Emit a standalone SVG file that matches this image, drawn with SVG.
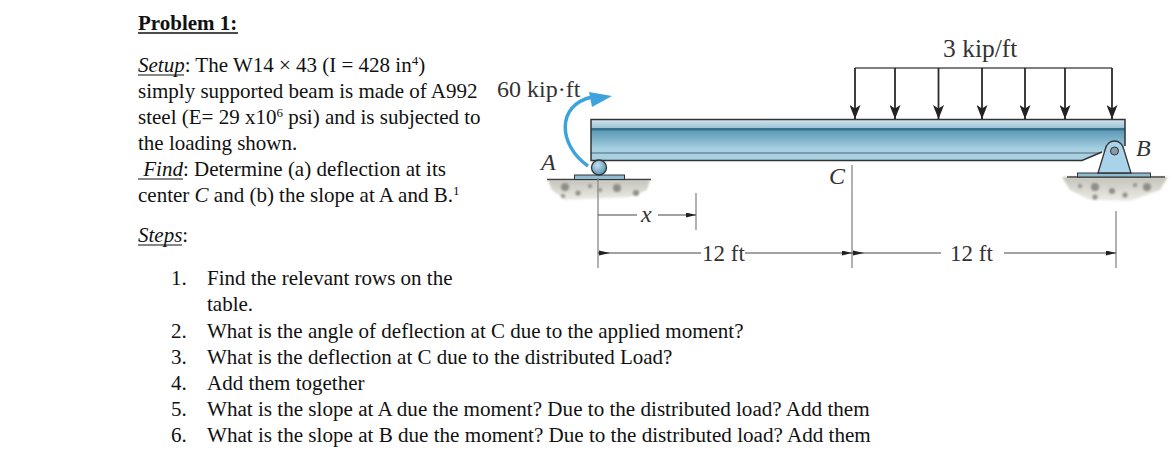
<svg xmlns="http://www.w3.org/2000/svg" width="1170" height="472" viewBox="0 0 1170 472">
<style>
text{font-family:"Liberation Serif","Times New Roman",serif;fill:#111;font-size:21px}
.w{font-size:21.1px}
.f{fill:#333;font-size:23px}
.big{font-size:24px}
.u{font-size:13px}
.d{stroke:#888;stroke-width:1.3;fill:none}
.dl{stroke:#444;stroke-width:1;fill:none}
.l{stroke:#2a2a2a;stroke-width:1.8;fill:none}
.g{fill:#8e8e86;filter:url(#soft)}
</style>
<defs>
<filter id="soft" x="-50%" y="-50%" width="200%" height="200%"><feGaussianBlur stdDeviation="0.9"/></filter>
<marker id="ah" markerWidth="14" markerHeight="11" refX="14" refY="5.500" orient="auto" markerUnits="userSpaceOnUse"><path d="M0 0L14 5.500L0 11L3.500 5.500Z" fill="#222"/></marker>
<marker id="dh" markerWidth="10" markerHeight="5" refX="10" refY="2.500" orient="auto" markerUnits="userSpaceOnUse"><path d="M0 0L10 2.500L0 5Z" fill="#222"/></marker>
<linearGradient id="web" x1="0" y1="0" x2="0" y2="1"><stop offset="0" stop-color="#3f7f9f"/><stop offset=".4" stop-color="#6fa8c2"/><stop offset=".72" stop-color="#a8d0e2"/><stop offset="1" stop-color="#a9d0e0"/></linearGradient>
<linearGradient id="fl" x1="0" y1="0" x2="0" y2="1"><stop offset="0" stop-color="#cfe3ec"/><stop offset="1" stop-color="#9cc3d6"/></linearGradient>
<radialGradient id="ball" cx=".4" cy=".35" r=".7"><stop offset="0" stop-color="#c4e0ee"/><stop offset="1" stop-color="#4f8fb3"/></radialGradient>
<linearGradient id="gr" x1="0" y1="0" x2="0" y2="1"><stop offset="0" stop-color="#c4c4bb"/><stop offset="1" stop-color="#ecece6"/></linearGradient>
</defs>
<g id="text-block">
<text x="138" y="30" font-weight="bold">Problem 1:</text>
<path d="M138 33H238" stroke="#111" stroke-width="1.400"/>
<text x="138" y="72"><tspan font-style="italic">Setup</tspan>: The W14 × 43 (I = 428 in<tspan class="u" dy="-7">4</tspan><tspan dy="7">)</tspan></text>
<path d="M138 75H184" stroke="#111" stroke-width="1"/>
<text x="138" y="98">simply supported beam is made of A992</text>
<text x="138" y="124">steel (E= 29 x10<tspan class="u" dy="-7">6</tspan><tspan dy="7"> psi) and is subjected to</tspan></text>
<text x="138" y="150">the loading shown.</text>
<text x="138" y="176" font-style="italic" xml:space="preserve"> Find<tspan font-style="normal">: Determine (a) deflection at its</tspan></text>
<path d="M138 179H183" stroke="#111" stroke-width="1"/>
<text x="138" y="202">center <tspan font-style="italic">C</tspan> and (b) the slope at A and B.<tspan class="u" dy="-7">1</tspan></text>
<text x="138" y="242" font-style="italic">Steps<tspan font-style="normal">:</tspan></text>
<path d="M138 245H182" stroke="#111" stroke-width="1"/>
<text x="171" y="285">1.</text><text x="207" y="285">Find the relevant rows on the</text>
<text x="207" y="311">table.</text>
<text x="171" y="338">2.</text><text x="207" y="338">What is the angle of deflection at C due to the applied moment?</text>
<text x="171" y="364">3.</text><text x="207" y="364">What is the deflection at C due to the distributed Load?</text>
<text x="171" y="390">4.</text><text x="207" y="390">Add them together</text>
<text x="171" y="416">5.</text><text class="w" x="207" y="416">What is the slope at A due the moment? Due to the distributed load? Add them</text>
<text x="171" y="442">6.</text><text class="w" x="207" y="442">What is the slope at B due the moment? Due to the distributed load? Add them</text>
</g>
<g id="ground-a">
<path d="M548 180H650L647 190 630 197 565 200 552 190Z" fill="url(#gr)" filter="url(#soft)"/>
<g class="g"><circle cx="565" cy="187" r="4"/><circle cx="578" cy="193" r="2.500"/><circle cx="617" cy="188" r="4"/><circle cx="636" cy="193" r="3"/><circle cx="600" cy="190" r="2"/><circle cx="590" cy="186" r="2"/><circle cx="563" cy="196" r="2"/></g>
<path d="M547 179.500H651" stroke="#444" stroke-width="1.300"/>
<rect x="574.500" y="175" width="50" height="4.500" fill="#8fbcd2" stroke="#333"/>
</g>
<g id="ground-b">
<path d="M1062 177H1168L1160 190 1130 201 1090 200 1070 190Z" fill="url(#gr)" filter="url(#soft)"/>
<g class="g"><circle cx="1095" cy="187" r="4"/><circle cx="1147" cy="187" r="4"/><circle cx="1112" cy="191" r="3"/><circle cx="1125" cy="195" r="2.500"/><circle cx="1080" cy="186" r="2"/><circle cx="1135" cy="185" r="2"/><circle cx="1095" cy="197" r="2.500"/></g>
<path d="M1067 177H1165" stroke="#444" stroke-width="1.300"/>
<rect x="1077.500" y="173" width="73" height="4" fill="#8fbcd2" stroke="#333"/>
</g>
<g id="beam">
<path d="M591 119.500H1125V146L1102 152 1082 160.500H591Z" fill="url(#web)"/>
<rect x="591" y="120" width="534" height="8" fill="url(#fl)"/>
<rect x="591" y="128" width="534" height="2.500" fill="#35728f"/>
<path d="M591 153H1100" stroke="#4a6a7a" stroke-width="1"/>
<path d="M1125 146V119.500H591V160.500H1082L1102 152" fill="none" stroke="#333" stroke-width="1.500"/>
</g>
<g id="support-a"><circle cx="599" cy="167.500" r="7.500" fill="url(#ball)" stroke="#333" stroke-width="1.300"/></g>
<g id="support-b">
<path d="M1098 173 1105 150C1107 138 1122 138 1124 150L1131 173Z" fill="#a9d3ea" stroke="#333" stroke-width="1.300"/>
<circle cx="1114.500" cy="151" r="4" fill="#8a9aa3" stroke="#333"/>
</g>
<g id="connectors">
<path d="M855 68H1112" fill="none" stroke="#555" stroke-width="1.500"/>
<path d="M855 68V119" class="l" marker-end="url(#ah)"/>
<path d="M895 68V119" class="l" marker-end="url(#ah)"/>
<path d="M938.500 68V119" class="l" marker-end="url(#ah)"/>
<path d="M982 68V119" class="l" marker-end="url(#ah)"/>
<path d="M1025 68V119" class="l" marker-end="url(#ah)"/>
<path d="M1065 68V119" class="l" marker-end="url(#ah)"/>
<path d="M1112 68V119" class="l" marker-end="url(#ah)"/>
<path d="M588 166C558 145 556 105 592 97" fill="none" stroke="#3ea3dc" stroke-width="3.500"/>
<path d="M589 92 612 96 592 107Z" fill="#3ea3dc"/>
<path d="M598 178V268" class="d"/>
<path d="M696 193V230" class="d"/>
<path d="M852 165V268" class="d"/>
<path d="M1116 211V268" class="d"/>
<path d="M598 215H637" class="dl"/>
<path d="M658 215H696" class="dl" marker-end="url(#dh)"/>
<path d="M598 253H701" class="dl"/>
<path d="M610 253 599 250.500 599 255.500Z" fill="#222"/>
<path d="M745 253H852" class="dl" marker-end="url(#dh)"/>
<path d="M852 253H941" class="dl"/>
<path d="M864 253 853 250.500 853 255.500Z" fill="#222"/>
<path d="M1004 253H1116" class="dl" marker-end="url(#dh)"/>
</g>
<g id="labels">
<text class="f big" x="497" y="97">60 kip·ft</text>
<text class="f" style="font-size:25.500px" x="943" y="57">3 kip/ft</text>
<text class="f big" x="541" y="170" font-style="italic">A</text>
<text class="f big" x="829" y="184" font-style="italic">C</text>
<text class="f big" x="1136" y="156" font-style="italic">B</text>
<text class="f big" x="641" y="222" font-style="italic">x</text>
<text class="f" x="702" y="261">12 ft</text>
<text class="f" x="950" y="261">12 ft</text>
</g>
</svg>
